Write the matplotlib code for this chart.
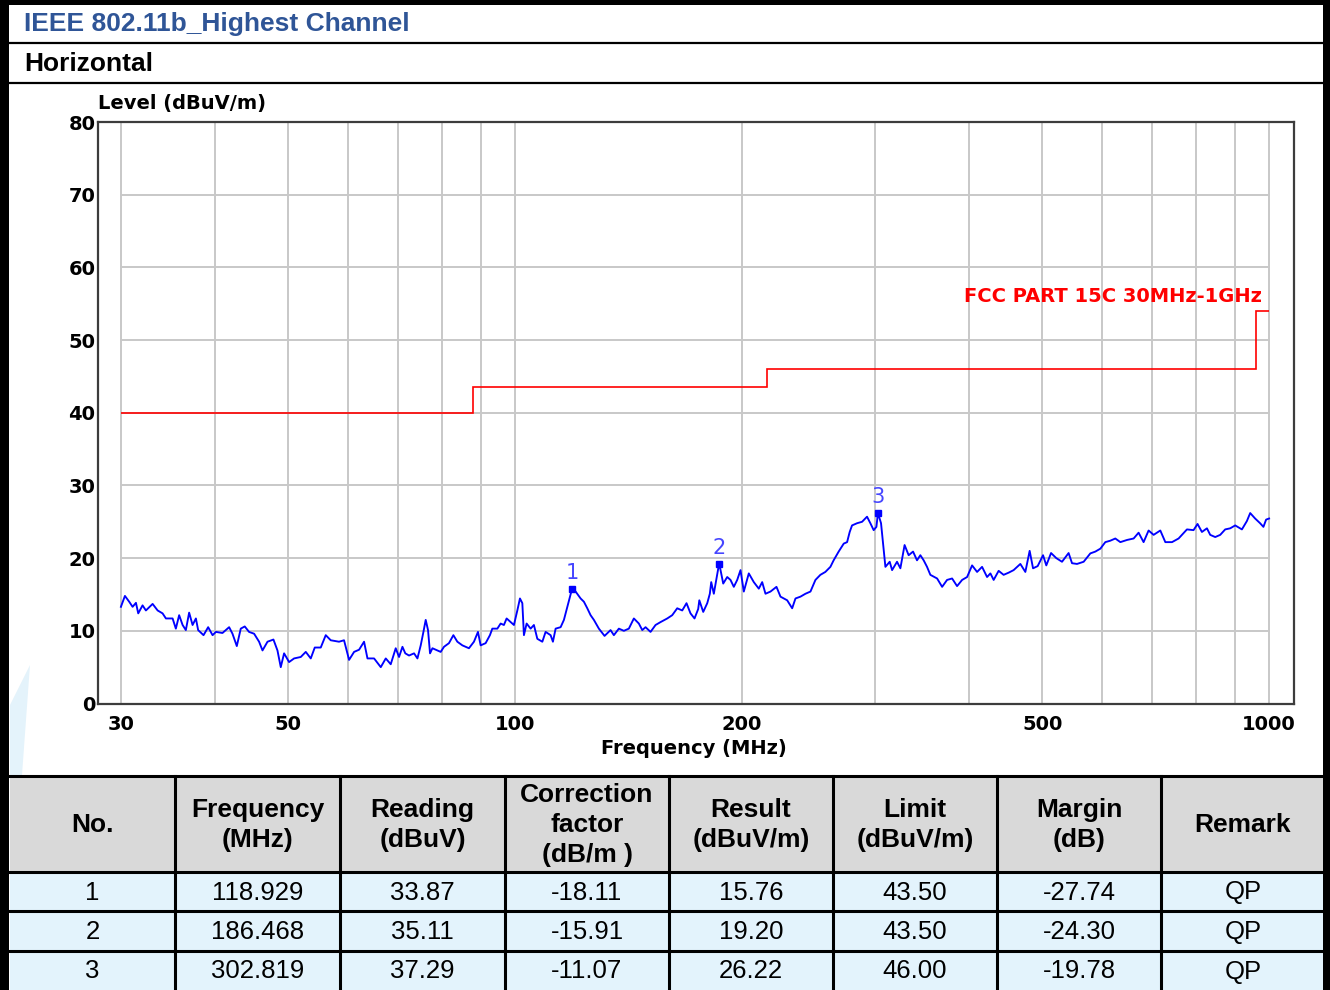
import matplotlib
matplotlib.use("Agg")
import matplotlib.pyplot as plt
from matplotlib.patches import Rectangle, Polygon
from matplotlib.ticker import NullLocator

# ---------------------------------------------------------------------
# data
# ---------------------------------------------------------------------
trace_freq = [
    30.0, 30.37, 30.77, 31.09, 31.41, 31.63, 32.05, 32.38, 33.05, 33.56,
    34.07, 34.42, 35.13, 35.48, 35.84, 36.22, 36.58, 36.95, 37.34, 37.72,
    37.98, 38.61, 39.16, 39.69, 40.1, 40.91, 41.75, 42.18, 42.74, 43.26,
    43.79, 44.37, 45.06, 45.75, 46.23, 46.94, 47.80, 48.39, 48.88, 49.38,
    50.14, 50.91, 51.96, 52.76, 53.57, 54.23, 55.23, 56.08, 56.94, 58.40,
    59.30, 60.22, 61.15, 62.09, 63.04, 63.70, 65.00, 66.34, 67.36, 68.39,
    69.44, 70.15, 70.88, 71.5, 72.32, 73.44, 74.20, 74.95, 75.57, 76.10,
    76.64, 77.11, 77.68, 78.87, 79.66, 80.47, 81.70, 82.81, 83.82, 85.11,
    86.84, 88.18, 89.27, 90.0, 91.38, 92.59, 93.27, 94.71, 95.67, 96.63,
    97.43, 98.63, 99.63, 100.67, 101.48, 102.22, 102.72, 103.57, 104.84, 105.90,
    107.01, 108.66, 109.75, 111.44, 112.23, 113.16, 114.90, 116.06, 117.27, 118.93,
    120.28, 122.13, 123.37, 124.65, 125.91, 127.19, 129.14, 131.40, 133.83, 135.19,
    137.27, 139.38, 141.52, 143.70, 145.91, 147.43, 148.93, 151.21, 153.54, 155.90,
    159.13, 161.56, 164.05, 166.58, 168.77, 170.84, 172.95, 174.9, 175.5, 177.61,
    179.80, 181.23, 182.00, 183.45, 184.97, 186.47, 188.79, 191.11, 193.04, 195.00,
    197.03, 199.03, 201.04, 204.13, 207.27, 210.46, 212.65, 214.80, 218.11, 222.14,
    224.87, 229.51, 233.04, 235.41, 239.01, 242.70, 246.43, 250.2, 254.0, 257.9,
    261.9, 264.5, 268.6, 272.8, 275.6, 277.8, 279.8, 284.1, 288.5, 292.9,
    295.9, 298.9, 301.4, 302.82, 305.7, 307.6, 309.8, 313.9, 316.2, 321.0,
    324.3, 328.5, 332.6, 337.1, 341.2, 344.7, 348.2, 351.8, 355.4, 362.8,
    368.4, 374.0, 379.8, 385.6, 391.6, 397.6, 403.7, 409.9, 416.2, 422.6,
    426.9, 431.2, 437.8, 444.5, 451.4, 458.3, 467.8, 475.0, 481.3, 486.3,
    493.2, 501.4, 506.4, 513.8, 522.1, 531.3, 542.1, 547.8, 556.2, 567.6,
    579.3, 588.2, 597.3, 606.4, 615.8, 625.2, 634.9, 648.0, 661.2, 671.3,
    681.6, 692.1, 702.8, 717.3, 728.4, 743.4, 758.5, 778.1, 793.9, 803.7,
    814.5, 827.1, 835.4, 848.3, 861.3, 874.5, 888.0, 901.6, 920.3, 934.4,
    943.9, 958.2, 972.9, 982.8, 990.9, 1000.0,
]
trace_level = [
    13.3, 14.8, 14.0, 13.3, 13.85, 12.4, 13.5, 12.8, 13.7, 12.8,
    12.4, 11.7, 11.7, 10.3, 12.15, 10.8, 10.1, 12.5, 10.8, 11.7,
    10.1, 9.4, 10.5, 9.4, 9.85, 9.7, 10.5, 9.6, 7.9, 10.3,
    10.6, 9.85, 9.6, 8.5, 7.3, 8.5, 8.8, 7.3, 5.0, 6.9,
    5.7, 6.2, 6.4, 7.1, 6.2, 7.7, 7.7, 9.4, 8.7, 8.5,
    8.7, 6.0, 7.1, 7.4, 8.5, 6.2, 6.2, 5.0, 6.2, 5.4,
    7.6, 6.4, 7.8, 6.9, 6.6, 6.9, 6.2, 8.0, 9.85, 11.5,
    10.1, 6.9, 7.6, 7.3, 7.1, 7.8, 8.3, 9.4, 8.5, 8.0,
    7.6, 8.5, 9.85, 8.0, 8.3, 9.4, 10.3, 10.3, 11.0, 10.8,
    11.7, 11.2, 10.8, 12.8, 14.45, 13.8, 9.4, 11.0, 10.3, 10.8,
    8.9, 8.5, 9.85, 9.4, 8.5, 10.3, 10.5, 11.5, 13.3, 15.7,
    15.4, 14.45, 14.0, 13.1, 12.15, 11.5, 10.3, 9.3, 10.1, 9.4,
    10.3, 10.0, 10.3, 11.7, 11.0, 10.1, 10.5, 9.85, 10.8, 11.2,
    11.7, 12.15, 13.1, 12.8, 13.8, 12.4, 11.7, 13.0, 14.2, 12.6,
    13.8, 15.1, 16.7, 15.1, 17.2, 19.3, 16.5, 17.4, 17.0, 16.05,
    17.0, 18.35, 15.4, 17.9, 16.7, 15.8, 16.7, 15.1, 15.4, 16.05,
    14.7, 14.2, 13.1, 14.45, 14.7, 15.1, 15.4, 17.0, 17.7, 18.1,
    18.8, 19.7, 20.9, 22.0, 22.2, 23.6, 24.5, 24.8, 25.0, 25.7,
    24.8, 23.85, 24.3, 26.2, 24.8, 22.0, 18.8, 19.5, 18.35, 19.5,
    18.6, 21.8, 20.4, 20.9, 19.7, 20.4, 19.7, 18.8, 17.7, 17.2,
    16.05, 17.0, 17.2, 16.15, 17.0, 17.4, 19.0, 18.1, 18.8, 17.4,
    17.9, 17.0, 18.25, 17.7, 18.0, 18.35, 19.2, 18.1, 21.0, 18.6,
    18.9, 20.4, 19.0, 20.7, 20.0, 19.5, 20.7, 19.3, 19.2, 19.5,
    20.65, 20.9, 21.3, 22.2, 22.4, 22.7, 22.2, 22.5, 22.7, 23.5,
    22.2, 23.8, 23.2, 23.8, 22.2, 22.2, 22.7, 23.95, 23.85, 24.7,
    23.6, 24.1, 23.2, 22.9, 23.2, 23.95, 24.1, 24.5, 23.95, 25.1,
    26.2, 25.45, 24.8, 24.3, 25.3, 25.45,
]

# FCC limit, steps between band edges
limit_edges = [30, 88, 216, 960, 1000]
limit_values = [40, 43.5, 46, 54]
limit_name = "FCC PART 15C 30MHz-1GHz"

x_ticks = [30, 50, 100, 200, 500, 1000]
y_ticks = [0, 10, 20, 30, 40, 50, 60, 70, 80]
grid_freqs = [30, 40, 50, 60, 70, 80, 90, 100, 200, 300, 400, 500,
              600, 700, 800, 900, 1000]

# result table
col_headers = ["No.", "Frequency\n(MHz)", "Reading\n(dBuV)",
               "Correction\nfactor\n(dB/m )", "Result\n(dBuV/m)",
               "Limit\n(dBuV/m)", "Margin\n(dB)", "Remark"]
nos = ["1", "2", "3"]
freqs = ["118.929", "186.468", "302.819"]
readings = ["33.87", "35.11", "37.29"]
corr = ["-18.11", "-15.91", "-11.07"]
results = ["15.76", "19.20", "26.22"]
limits = ["43.50", "43.50", "46.00"]
margins = ["-27.74", "-24.30", "-19.78"]
remarks = ["QP", "QP", "QP"]

title = "IEEE 802.11b_Highest Channel"
subtitle = "Horizontal"

# ---------------------------------------------------------------------
# page frame (pixel coordinates)
# ---------------------------------------------------------------------
W, H = 1330, 990
fig = plt.figure(figsize=(W / 100, H / 100), dpi=100)
fig.patch.set_facecolor("white")

bg = fig.add_axes([0, 0, 1, 1])
bg.set_xlim(0, W)
bg.set_ylim(H, 0)
bg.axis("off")

tfont = "Liberation Sans"

# faint watermark swoosh at the left edge
bg.add_patch(Polygon([(10, 775), (10, 705), (30, 665), (26, 720), (22, 775)],
                     closed=True, fc="#E4F3FB", lw=0))

# table background
bg.add_patch(Rectangle((10, 776), 1315, 96, fc="#D9D9D9", lw=0))
bg.add_patch(Rectangle((10, 872), 1315, 118, fc="#E3F3FC", lw=0))

# row separators of the header block
bg.plot([10, 1325], [42.5, 42.5], color="black", lw=1.6)
bg.plot([10, 1325], [83, 83], color="black", lw=1.6)

bg.text(24, 24, title, fontsize=19, fontweight="bold", color="#2F5597",
        family=tfont, va="center", ha="left")
bg.text(24, 64, subtitle, fontsize=19, fontweight="bold", color="black",
        family=tfont, va="center", ha="left")

# table grid
col_x = [10, 175, 340, 505, 669, 833, 997, 1161, 1325]
row_y = [776, 872, 911, 951, 990]
for y in row_y[:-1]:
    bg.plot([10, 1325], [y, y], color="black", lw=2.2)
for x in col_x[1:-1]:
    bg.plot([x, x], [776, 990], color="black", lw=2.2)

centers = [(col_x[i] + col_x[i + 1]) / 2 for i in range(8)]
for c, hdr in zip(centers, col_headers):
    bg.text(c, 825, hdr, fontsize=19, fontweight="bold", family=tfont,
            ha="center", va="center", linespacing=1.32)

rows = list(zip(nos, freqs, readings, corr, results, limits, margins, remarks))
for r, vals in enumerate(rows):
    yc = (row_y[r + 1] + row_y[r + 2]) / 2 + 1
    for c, v in zip(centers, vals):
        bg.text(c, yc, v, fontsize=18.5, family=tfont, ha="center", va="center")

# outer black border
bg.add_patch(Rectangle((0, 0), 9, H, fc="black", lw=0))
bg.add_patch(Rectangle((0, 0), W, 4.5, fc="black", lw=0))
bg.add_patch(Rectangle((1323, 0), 7, H, fc="black", lw=0))

# ---------------------------------------------------------------------
# the spectrum plot
# ---------------------------------------------------------------------
cfont = "DejaVu Sans"
ax = fig.add_axes([97.5 / W, 1 - 703.5 / H, (1294 - 97.5) / W, (703.5 - 122) / H])
ax.set_xscale("log")
ax.set_xlim(27.93, 1079)
ax.set_ylim(0, 80)

for f in grid_freqs:
    ax.plot([f, f], [0, 80], color="#C8C8C8", lw=1.4, zorder=1)
for v in y_ticks:
    ax.plot([grid_freqs[0], grid_freqs[-1]], [v, v], color="#C8C8C8", lw=1.4, zorder=1)

ax.stairs(limit_values, limit_edges, baseline=None, color="#FF0000", lw=1.2, zorder=3)
ax.text(979, 56, limit_name, color="#FF0000", fontsize=14, fontweight="bold",
        family=cfont, ha="right", va="center", zorder=6)

ax.plot(trace_freq, trace_level, color="#0000FF", lw=1.35, zorder=4)

mk_freq = [float(f) for f in freqs]
mk_level = [float(v) for v in results]
ax.plot(mk_freq, mk_level, "s", ms=5, color="#0000FF", zorder=5)
for n, f, v in zip(nos, mk_freq, mk_level):
    ax.annotate(n, (f, v), xytext=(0, 11.5), textcoords="offset points",
                ha="center", va="center", fontsize=15, color="#4646FF",
                family=cfont, zorder=6)

ax.set_xticks(x_ticks)
ax.set_xticklabels([str(t) for t in x_ticks], fontsize=14, fontweight="bold", family=cfont)
ax.xaxis.set_minor_locator(NullLocator())
ax.set_yticks(y_ticks)
ax.set_yticklabels([str(t) for t in y_ticks], fontsize=14, fontweight="bold", family=cfont)
ax.tick_params(axis="x", length=0, pad=8)
ax.tick_params(axis="y", length=0, pad=1.5)
for s in ax.spines.values():
    s.set_color("#3C3C3C")
    s.set_linewidth(1.6)

bg.text(98, 104, "Level (dBuV/m)", fontsize=14, fontweight="bold", family=cfont,
        ha="left", va="center")
bg.text(694, 748, "Frequency (MHz)", fontsize=14, fontweight="bold", family=cfont,
        ha="center", va="center")

fig.savefig("out.png", dpi=100)
